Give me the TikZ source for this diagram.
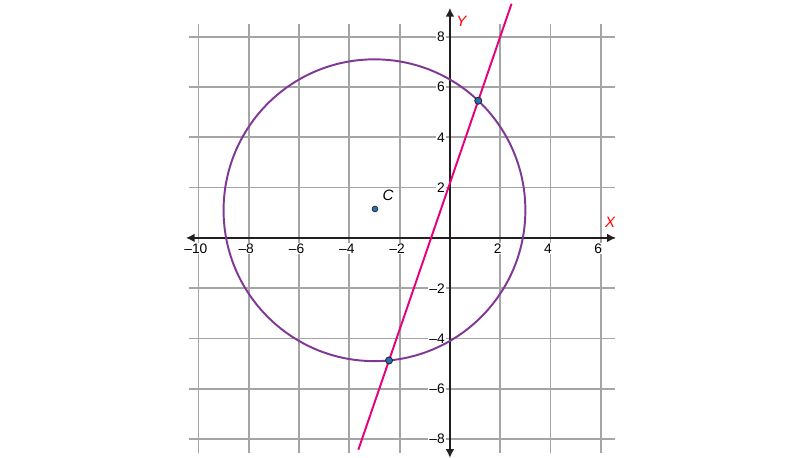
\documentclass[tikz,border=0pt]{standalone}
\usepackage{fontspec}
\setmainfont{Liberation Sans}
\usetikzlibrary{arrows.meta,intersections}

\definecolor{gridgray}{RGB}{165,165,165}
\definecolor{axisblack}{RGB}{35,31,32}
\definecolor{circpurple}{RGB}{128,56,150}
\definecolor{linemagenta}{RGB}{230,0,126}
\definecolor{dotblue}{RGB}{40,110,180}

\begin{document}
\begin{tikzpicture}[>=Latex,x=0.5cm,y=0.5cm,font=\fontsize{7.8}{9}\selectfont]
  \tikzstyle{gridline}=[draw=gridgray,line width=1pt]
  \tikzstyle{axis}=[draw=axisblack,line width=1.1pt]
  \tikzstyle{ticklab}=[fill=white,inner sep=0.6pt]
  \tikzstyle{dot}=[circle,fill=dotblue,draw=axisblack,line width=0.45pt,inner sep=0pt,minimum size=4pt]
  \useasboundingbox (-17.89,-8.75) rectangle (13.92,9.46);
  % grid
  \foreach \gx in {-10,-8,...,6}
    \draw[gridline] (\gx,-8.55) -- (\gx,8.49);
  \foreach \gy in {-8,-6,...,8}
    \draw[gridline] (-10.38,\gy) -- (6.57,\gy);
  % tick labels
  \foreach \gx/\txt in {-10/{–10},-8/{–8},-6/{–6},-4/{–4},-2/{–2},2/2,4/4,6/6}
    \node[ticklab,anchor=north] (xl\gx) at (\gx-0.1,-0.17) {\txt};
  \foreach \gy/\txt in {-8/{–8},-6/{–6},-4/{–4},-2/{–2},2/2,4/4,6/6,8/8}
    \node[ticklab,anchor=east] (yl\gy) at (-0.15,\gy) {\txt};
  % axes
  \draw[axis,{Latex[length=5pt,width=5pt]}-{Latex[length=5pt,width=5pt]}] (-10.5,0) -- (6.6,0);
  \draw[axis,{Latex[length=5pt,width=5pt]}-{Latex[length=5pt,width=5pt]}] (0,-8.75) -- (0,9.15);
  \node[text=red,font=\fontsize{8.5}{10}\selectfont\itshape] (ylab) at (0.46,8.62) {Y};
  \node[text=red,font=\fontsize{8.5}{10}\selectfont\itshape] (xlab) at (6.37,0.6) {X};
  % circle and line
  \draw[name path=circ,circpurple,line width=1.1pt] (-3,1.1) circle (6);
  \draw[name path=lin,linemagenta,line width=1.1pt] (-3.64,-8.42) -- (2.45,9.31);
  \path[name intersections={of=circ and lin,by={p1,p2}}];
  \node[dot] (pa) at (p1) {};
  \node[dot] (pb) at (p2) {};
  \node[dot,minimum size=3.3pt,line width=0.35pt] (cen) at (-2.98,1.15) {};
  \node[font=\fontsize{8.5}{10}\selectfont\itshape] (clab) at (-2.46,1.71) {C};
\end{tikzpicture}
\end{document}
